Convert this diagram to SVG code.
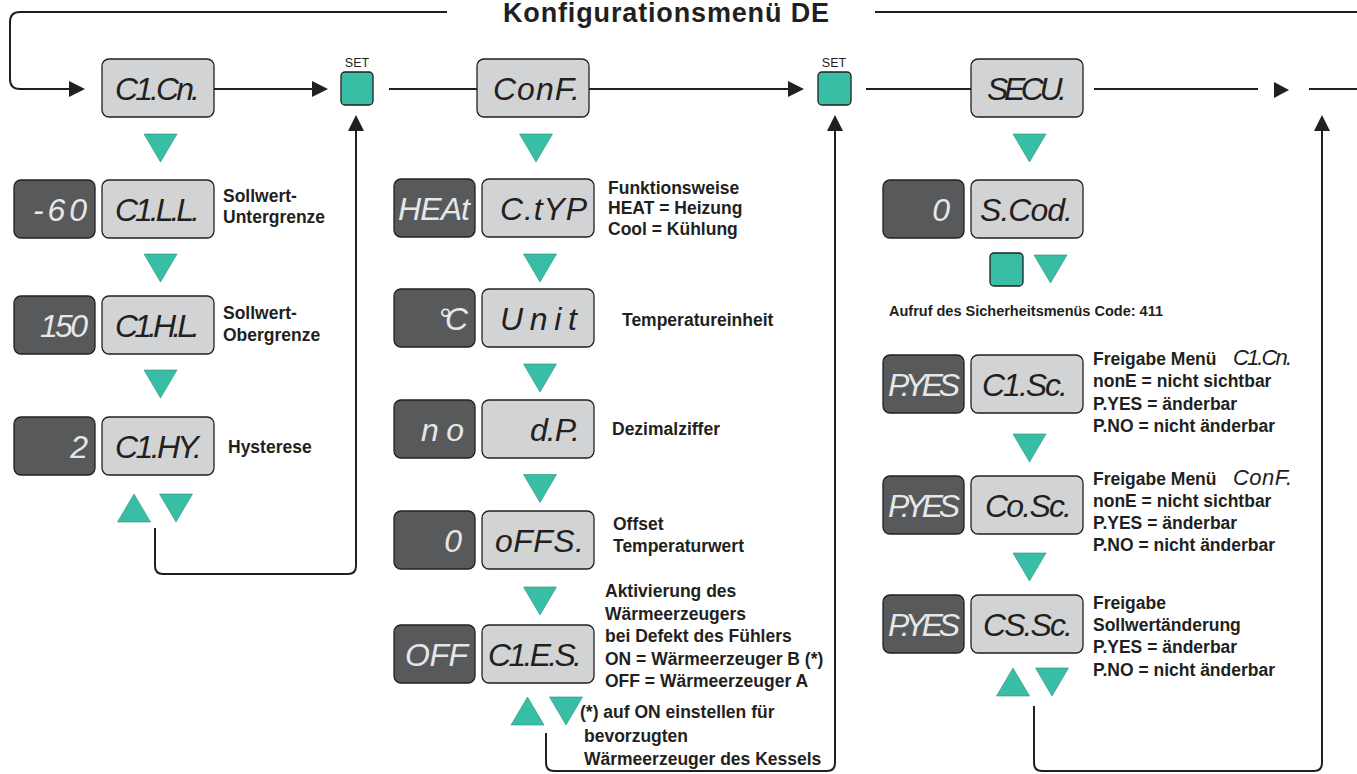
<svg xmlns="http://www.w3.org/2000/svg" xmlns:xlink="http://www.w3.org/1999/xlink" width="1357" height="774" viewBox="0 0 1357 774">
<style>
.ln{fill:none;stroke:#231f20;stroke-width:2}
.lb{fill:#d1d3d4;stroke:#231f20;stroke-width:1.3}
.db{fill:#58595b;stroke:#231f20;stroke-width:1.3}
.tri{fill:#37bea4;stroke:#2b8f7b;stroke-width:0.6}
.btn{fill:#37bea4;stroke:#231f20;stroke-width:1.3}
.seg{font-family:"Liberation Sans",Arial,sans-serif;font-style:italic;font-size:32px;fill:#231f20}
.segd{font-family:"Liberation Sans",Arial,sans-serif;font-style:italic;font-size:32px;fill:#e6e7e8;text-anchor:end}
.segs{font-family:"Liberation Sans",Arial,sans-serif;font-style:italic;font-size:22px;fill:#231f20}
.lab{font-family:"Liberation Sans",Arial,sans-serif;font-weight:bold;font-size:17.5px;fill:#231f20}
.labs{font-family:"Liberation Sans",Arial,sans-serif;font-weight:bold;font-size:14.5px;fill:#231f20}
.set{font-family:"Liberation Sans",Arial,sans-serif;font-size:12.5px;fill:#231f20;text-anchor:middle}
.title{font-family:"Liberation Sans",Arial,sans-serif;font-weight:bold;font-size:27px;fill:#231f20;text-anchor:middle}
</style>
<defs>
<marker id="ah" viewBox="0 0 16 16" refX="8" refY="8" markerWidth="16" markerHeight="16" orient="auto" markerUnits="userSpaceOnUse">
<path d="M0 0 L16 8 L0 16 Z" fill="#231f20"/>
</marker>
<path id="tdn" class="tri" d="M-16.5 -14 H16.5 L0 14 Z"/>
<path id="tup" class="tri" d="M-16.5 14 H16.5 L0 -14 Z"/>
</defs>

<text class="title" x="666" y="22" textLength="326">Konfigurationsmenü DE</text>

<g id="connectors">
<path class="ln" d="M1357 12 H875"/>
<path class="ln" d="M447 12 H20 Q10 12 10 22 V79 Q10 89 20 89 H77" marker-end="url(#ah)"/>
<path class="ln" d="M214 89 H320" marker-end="url(#ah)"/>
<path class="ln" d="M389 89 H477"/>
<path class="ln" d="M589 89 H796" marker-end="url(#ah)"/>
<path class="ln" d="M866 89 H971"/>
<path class="ln" d="M1094 89 H1258"/>
<path d="M1274 82 L1289 90 L1274 98 Z" fill="#231f20"/>
<path class="ln" d="M1309 89 H1357"/>
<path class="ln" d="M155 528 V566 Q155 574 163 574 H348 Q356 574 356 566 V123" marker-end="url(#ah)"/>
<path class="ln" d="M546 733 V763 Q546 771 554 771 H827 Q835 771 835 763 V123" marker-end="url(#ah)"/>
<path class="ln" d="M1034 706 V763 Q1034 771 1042 771 H1314 Q1322 771 1322 763 V123" marker-end="url(#ah)"/>
</g>

<g id="set1">
<text class="set" x="357" y="67">SET</text>
<rect class="btn" x="341" y="72" width="32" height="33" rx="4"/>
</g>
<g id="set2">
<text class="set" x="834" y="67">SET</text>
<rect class="btn" x="818" y="72" width="33" height="33" rx="4"/>
</g>

<!-- Left column -->
<g id="n-c1cn">
<rect class="lb" x="102" y="59" width="112" height="58" rx="7"/>
<text class="seg" x="115" y="100" textLength="85">C1.Cn.</text>
</g>
<use href="#tdn" x="160.5" y="148"/>
<g id="n-c1ll">
<rect class="db" x="14" y="180" width="81" height="58" rx="7"/>
<text class="segd" x="87" y="221" textLength="54">-60</text>
<rect class="lb" x="102" y="180" width="112" height="58" rx="7"/>
<text class="seg" x="115" y="221" textLength="85">C1.L.L.</text>
<text class="lab" x="223" y="202">Sollwert-</text>
<text class="lab" x="223" y="223">Untergrenze</text>
</g>
<use href="#tdn" x="160.5" y="268"/>
<g id="n-c1hl">
<rect class="db" x="14" y="296" width="81" height="58" rx="7"/>
<text class="segd" x="88" y="337" textLength="48">150</text>
<rect class="lb" x="102" y="296" width="112" height="58" rx="7"/>
<text class="seg" x="115" y="337" textLength="85">C1.H.L.</text>
<text class="lab" x="223" y="319">Sollwert-</text>
<text class="lab" x="223" y="341">Obergrenze</text>
</g>
<use href="#tdn" x="160.5" y="384"/>
<g id="n-c1hy">
<rect class="db" x="14" y="417" width="81" height="58" rx="7"/>
<text class="segd" x="88" y="458">2</text>
<rect class="lb" x="102" y="417" width="112" height="58" rx="7"/>
<text class="seg" x="115" y="458" textLength="87">C1.HY.</text>
<text class="lab" x="228" y="453">Hysterese</text>
</g>
<use href="#tup" x="134" y="508"/>
<use href="#tdn" x="176" y="508"/>

<!-- Middle column -->
<g id="n-conf">
<rect class="lb" x="477" y="59" width="112" height="58" rx="7"/>
<text class="seg" x="493" y="100" textLength="87">ConF.</text>
</g>
<use href="#tdn" x="536" y="148"/>
<g id="n-ctyp">
<rect class="db" x="394" y="179" width="81" height="58" rx="7"/>
<text class="segd" x="470" y="220" textLength="72">HEAt</text>
<rect class="lb" x="482" y="179" width="112" height="58" rx="7"/>
<text class="seg" x="500" y="220" textLength="87">C.tYP</text>
<text class="lab" x="608" y="194">Funktionsweise</text>
<text class="lab" x="608" y="214">HEAT = Heizung</text>
<text class="lab" x="608" y="235">Cool = Kühlung</text>
</g>
<use href="#tdn" x="540" y="268"/>
<g id="n-unit">
<rect class="db" x="394" y="289" width="81" height="58" rx="7"/>
<text class="segd" x="468" y="330" textLength="30">°C</text>
<rect class="lb" x="482" y="289" width="112" height="58" rx="7"/>
<text class="seg" x="500" y="330" textLength="77">Unit</text>
<text class="lab" x="622" y="326">Temperatureinheit</text>
</g>
<use href="#tdn" x="540" y="378"/>
<g id="n-dp">
<rect class="db" x="394" y="400" width="81" height="58" rx="7"/>
<text class="segd" x="464" y="441" textLength="43">no</text>
<rect class="lb" x="482" y="400" width="112" height="58" rx="7"/>
<text class="seg" x="530" y="441" textLength="50">d.P.</text>
<text class="lab" x="612" y="435">Dezimalziffer</text>
</g>
<use href="#tdn" x="540" y="488.5"/>
<g id="n-offs">
<rect class="db" x="394" y="511" width="81" height="58" rx="7"/>
<text class="segd" x="462" y="552">0</text>
<rect class="lb" x="482" y="511" width="112" height="58" rx="7"/>
<text class="seg" x="495" y="552" textLength="89">oFFS.</text>
<text class="lab" x="613" y="530">Offset</text>
<text class="lab" x="613" y="552">Temperaturwert</text>
</g>
<use href="#tdn" x="540" y="601"/>
<g id="n-c1es">
<rect class="db" x="394" y="625" width="81" height="58" rx="7"/>
<text class="segd" x="468" y="666" textLength="63">OFF</text>
<rect class="lb" x="482" y="625" width="112" height="58" rx="7"/>
<text class="seg" x="488" y="666" textLength="94">C1.E.S.</text>
<text class="lab" x="605" y="597">Aktivierung des</text>
<text class="lab" x="605" y="620">Wärmeerzeugers</text>
<text class="lab" x="605" y="642">bei Defekt des Fühlers</text>
<text class="lab" x="605" y="665">ON = Wärmeerzeuger B (*)</text>
<text class="lab" x="605" y="687">OFF = Wärmeerzeuger A</text>
</g>
<use href="#tup" x="527.5" y="711"/>
<use href="#tdn" x="566" y="711"/>
<g id="note">
<text class="lab" x="580" y="718">(*) auf ON einstellen für</text>
<text class="lab" x="584" y="742">bevorzugten</text>
<text class="lab" x="584" y="765">Wärmeerzeuger des Kessels</text>
</g>

<!-- Right column -->
<g id="n-secu">
<rect class="lb" x="971" y="59" width="112" height="58" rx="7"/>
<text class="seg" x="987" y="100" textLength="80">SECU.</text>
</g>
<use href="#tdn" x="1029.5" y="148"/>
<g id="n-scod">
<rect class="db" x="883" y="180" width="81" height="58" rx="7"/>
<text class="segd" x="950" y="221">0</text>
<rect class="lb" x="971" y="180" width="112" height="58" rx="7"/>
<text class="seg" x="980" y="221" textLength="93">S.Cod.</text>
</g>
<rect class="btn" x="990" y="253" width="33" height="33" rx="4"/>
<use href="#tdn" x="1050.5" y="269"/>
<text class="labs" x="889" y="316">Aufruf des Sicherheitsmenüs Code: 411</text>
<g id="n-c1sc">
<rect class="db" x="883" y="355" width="81" height="58" rx="7"/>
<text class="segd" x="960" y="396" textLength="72">P.YES</text>
<rect class="lb" x="971" y="355" width="112" height="58" rx="7"/>
<text class="seg" x="982" y="396" textLength="86">C1.Sc.</text>
<text class="lab" x="1093" y="365">Freigabe Menü</text>
<text class="segs" x="1233" y="365" textLength="59">C1.Cn.</text>
<text class="lab" x="1093" y="387">nonE = nicht sichtbar</text>
<text class="lab" x="1093" y="410">P.YES = änderbar</text>
<text class="lab" x="1093" y="432">P.NO = nicht änderbar</text>
</g>
<use href="#tdn" x="1029.5" y="448"/>
<g id="n-cosc">
<rect class="db" x="883" y="476" width="81" height="58" rx="7"/>
<text class="segd" x="960" y="517" textLength="72">P.YES</text>
<rect class="lb" x="971" y="476" width="112" height="58" rx="7"/>
<text class="seg" x="985" y="517" textLength="87">Co.Sc.</text>
<text class="lab" x="1093" y="485">Freigabe Menü</text>
<text class="segs" x="1233" y="485" textLength="59">ConF.</text>
<text class="lab" x="1093" y="507">nonE = nicht sichtbar</text>
<text class="lab" x="1093" y="529">P.YES = änderbar</text>
<text class="lab" x="1093" y="551">P.NO = nicht änderbar</text>
</g>
<use href="#tdn" x="1029.5" y="567"/>
<g id="n-cssc">
<rect class="db" x="883" y="595" width="81" height="58" rx="7"/>
<text class="segd" x="960" y="636" textLength="72">P.YES</text>
<rect class="lb" x="971" y="595" width="112" height="58" rx="7"/>
<text class="seg" x="983" y="636" textLength="90">CS.Sc.</text>
<text class="lab" x="1093" y="609">Freigabe</text>
<text class="lab" x="1093" y="631">Sollwertänderung</text>
<text class="lab" x="1093" y="653">P.YES = änderbar</text>
<text class="lab" x="1093" y="676">P.NO = nicht änderbar</text>
</g>
<use href="#tup" x="1013" y="682"/>
<use href="#tdn" x="1052" y="682"/>
</svg>
